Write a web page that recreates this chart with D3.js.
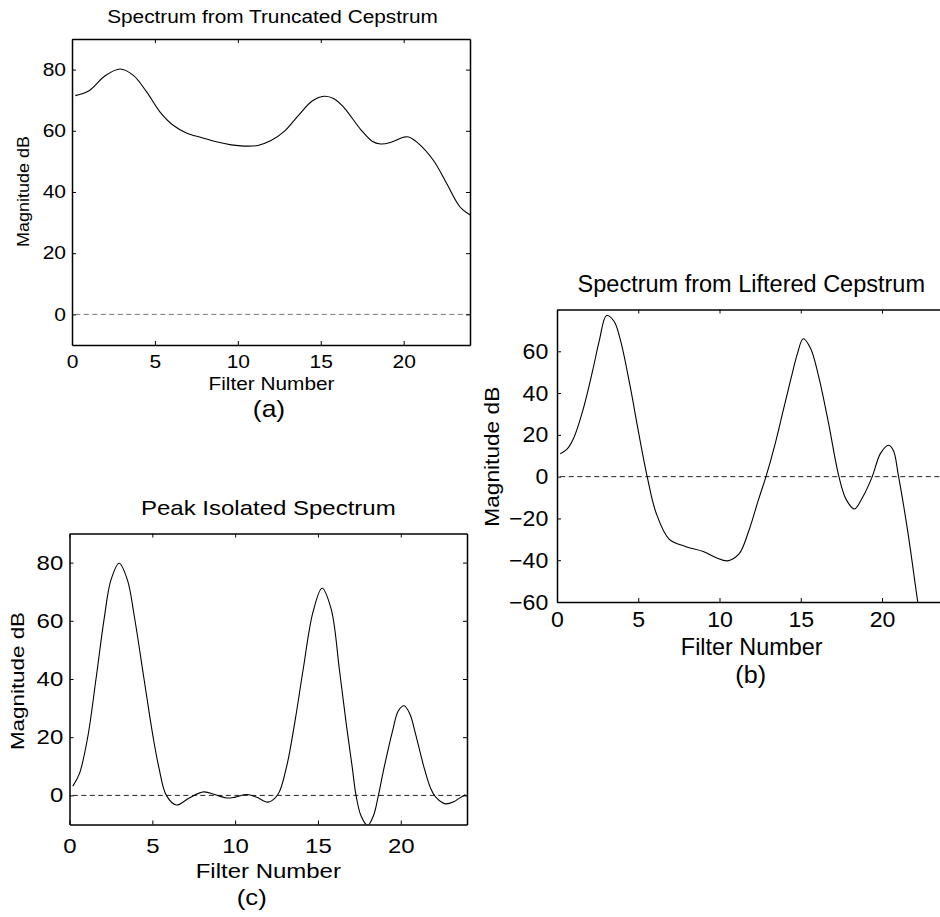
<!DOCTYPE html>
<html>
<head>
<meta charset="utf-8">
<script src="https://cdn.jsdelivr.net/npm/d3@7"></script>
<style>
  body { margin: 0; background: #fff; }
  svg { display: block; font-family: "Liberation Sans", Arial, Helvetica, sans-serif; }
</style>
</head>
<body>
<svg id="fig" width="940" height="917"></svg>
<script>
// data (filter number vs magnitude in dB)
var filterA = [0.2, 1.0, 2.0, 2.9, 3.7, 4.5, 5.3, 6.1, 6.9, 7.8, 8.7, 9.6, 10.4, 11.2, 12.0, 12.8, 13.7, 14.5, 15.2, 15.8, 16.4, 17.4, 18.1, 18.6, 19.2, 20.0, 20.3, 20.8, 21.8, 22.6, 23.4, 24.0];
var magA    = [71.5, 73, 78, 80.2, 78.1, 72.7, 66.2, 61.8, 59.3, 57.8, 56.4, 55.4, 55.0, 55.2, 56.8, 59.8, 65.3, 69.8, 71.3, 70.5, 67.6, 60.5, 56.6, 55.7, 56.2, 57.9, 58.0, 56.3, 50.3, 42.7, 35.1, 32.5];

var filterB = [0.2, 0.6, 1.0, 1.6, 2.2, 2.6, 3.05, 3.5, 3.9, 4.5, 5.0, 5.55, 6.1, 6.9, 7.9, 9.0, 9.8, 10.5, 11.2, 11.8, 12.4, 12.86, 13.4, 13.9, 14.4, 14.8, 15.15, 15.6, 16.1, 16.7, 17.35, 17.8, 18.3, 18.8, 19.4, 19.9, 20.4, 20.7, 21.0, 21.6, 22.2, 22.6];
var magB    = [11, 13, 18, 32, 51, 65, 77.1, 74.5, 65.5, 43.3, 22, 0, -17.4, -29.9, -33.4, -35.8, -38.8, -40.3, -37, -26, -11, 0, 15, 31, 47, 59, 66, 61.5, 48, 26, 0, -11, -15.5, -10, 0, 11, 15, 12.5, 1, -27, -60, -80];

var filterC = [0.2, 0.6, 1.1, 1.6, 2.1, 2.5, 3.0, 3.5, 3.9, 4.5, 5.05, 5.4, 5.85, 6.45, 7.2, 8.1, 8.8, 9.5, 10.0, 10.7, 11.3, 12.0, 12.6, 13.1, 13.6, 14.1, 14.7, 15.25, 15.8, 16.3, 16.7, 17.07, 17.3, 17.6, 18.0, 18.35, 18.65, 19.0, 19.5, 19.85, 20.2, 20.55, 20.9, 21.4, 21.8, 22.1, 22.7, 23.2, 23.5, 23.9];
var magC    = [3.2, 7.5, 20, 40, 61, 74, 79.8, 74, 62, 40, 20, 9.5, 0, -3.3, -1, 1.2, 0.2, -0.9, -0.6, 0.3, -0.6, -2.3, 0.5, 9.7, 25, 43, 63, 71.2, 64, 43, 25, 9.7, 0, -7, -10.3, -7, 0, 9.7, 22, 29, 30.8, 28, 21, 9.7, 2.5, -0.5, -2.9, -2.2, -1.1, 0.2];

var xTicks  = [0, 5, 10, 15, 20];
var yTicksA = [0, 20, 40, 60, 80];
var yTicksB = [-60, -40, -20, 0, 20, 40, 60];
var yTicksC = [0, 20, 40, 60, 80];
var zeroLevel = 0;

var panels = [
  {filter: filterA, mag: magA, yTicks: yTicksA, yDomain: [-10, 90],
   box: {l: 72, t: 39, r: 470, b: 345}, tick: {fs: 17.5, sx: 1.2, padL: 5, padB: 10.6},
   dashColor: "#777",
   title: {text: "Spectrum from Truncated Cepstrum", x: 272.5, y: 23, fs: 17.5, sx: 1.19},
   xlab: {text: "Filter Number", x: 271.5, y: 390, fs: 17.5, sx: 1.19},
   cap: {text: "(a)", x: 269, y: 417, fs: 23, sx: 1.15},
   ylab: {text: "Magnitude dB", x: 29, y: 191.5, fs: 18, sx: 0.95}},
  {filter: filterB, mag: magB, yTicks: yTicksB, yDomain: [-60, 80],
   box: {l: 557, t: 309.5, r: 947, b: 602}, tick: {fs: 22, sx: 1.05, padL: 8.3, padB: 9.4},
   dashColor: "#222",
   title: {text: "Spectrum from Liftered Cepstrum", x: 751.3, y: 291.7, fs: 23.5, sx: 1.0},
   xlab: {text: "Filter Number", x: 751.7, y: 655, fs: 23.4, sx: 1.0},
   cap: {text: "(b)", x: 750.7, y: 683, fs: 24, sx: 1.05},
   ylab: {text: "Magnitude dB", x: 498.5, y: 456.7, fs: 22.7, sx: 0.9}},
  {filter: filterC, mag: magC, yTicks: yTicksC, yDomain: [-10, 90],
   box: {l: 69.5, t: 533.5, r: 467, b: 824.5}, tick: {fs: 20, sx: 1.2, padL: 5.2, padB: 14},
   dashColor: "#222",
   title: {text: "Peak Isolated Spectrum", x: 268.3, y: 515, fs: 20, sx: 1.2},
   xlab: {text: "Filter Number", x: 268.3, y: 878, fs: 20, sx: 1.2},
   cap: {text: "(c)", x: 251.7, y: 905, fs: 23, sx: 1.12},
   ylab: {text: "Magnitude dB", x: 23.6, y: 681, fs: 22.4, sx: 0.85}}
];

var svg = d3.select("#fig");

function label(g, o, rotate) {
  var tr = "translate(" + o.x + "," + o.y + ") scale(" + o.sx + ",1)" + (rotate ? " rotate(-90)" : "");
  g.append("text")
    .attr("transform", tr)
    .attr("text-anchor", "middle")
    .attr("font-size", o.fs)
    .attr("fill", "#000")
    .text(o.text);
}

panels.forEach(function(p, i) {
  var g = svg.append("g");
  var x = d3.scaleLinear().domain([0, 24]).range([p.box.l, p.box.r]);
  var y = d3.scaleLinear().domain(p.yDomain).range([p.box.b, p.box.t]);

  var clipId = "clip" + i;
  g.append("clipPath").attr("id", clipId)
    .append("rect")
    .attr("x", p.box.l).attr("y", p.box.t)
    .attr("width", p.box.r - p.box.l).attr("height", p.box.b - p.box.t);

  // dashed zero line
  g.append("line")
    .attr("x1", x(p.filter[0])).attr("x2", x(24))
    .attr("y1", y(zeroLevel)).attr("y2", y(zeroLevel))
    .attr("stroke", p.dashColor)
    .attr("stroke-width", 1)
    .attr("stroke-dasharray", "5,3.5");

  // spectrum curve
  var line = d3.line()
    .x(function(d) { return x(d[0]); })
    .y(function(d) { return y(d[1]); })
    .curve(d3.curveCatmullRom.alpha(0.5));
  g.append("path")
    .datum(d3.zip(p.filter, p.mag))
    .attr("clip-path", "url(#" + clipId + ")")
    .attr("d", line)
    .attr("fill", "none")
    .attr("stroke", "#000")
    .attr("stroke-width", 1.1);

  var fmt = function(d) { return d < 0 ? "\u2212" + Math.abs(d) : String(d); };

  // bottom / left axes with labels, ticks point inward
  var gx = g.append("g").attr("transform", "translate(0," + p.box.b + ")")
    .call(d3.axisBottom(x).tickValues(xTicks).tickSizeInner(-4).tickSizeOuter(0).tickPadding(p.tick.padB));
  var gy = g.append("g").attr("transform", "translate(" + p.box.l + ",0)")
    .call(d3.axisLeft(y).tickValues(p.yTicks).tickFormat(fmt).tickSizeInner(-4).tickSizeOuter(0).tickPadding(p.tick.padL));
  // top / right axes, ticks only
  var gt = g.append("g").attr("transform", "translate(0," + p.box.t + ")")
    .call(d3.axisTop(x).tickValues(xTicks).tickSizeInner(-4).tickSizeOuter(0).tickFormat(""));
  var gr = g.append("g").attr("transform", "translate(" + p.box.r + ",0)")
    .call(d3.axisRight(y).tickValues(p.yTicks).tickSizeInner(-4).tickSizeOuter(0).tickFormat(""));

  [gx, gy, gt, gr].forEach(function(a) {
    a.attr("font-family", null).attr("font-size", null);
    a.select(".domain").attr("stroke", "#000").attr("stroke-width", 1.5);
    a.selectAll(".tick line").attr("stroke", "#000").attr("stroke-width", 1);
    a.selectAll(".tick text")
      .attr("font-size", p.tick.fs)
      .attr("fill", "#000")
      .attr("transform", "scale(" + p.tick.sx + ",1)");
  });

  label(g, p.title, false);
  label(g, p.xlab, false);
  label(g, p.cap, false);
  label(g, p.ylab, true);
});
</script>
</body>
</html>
